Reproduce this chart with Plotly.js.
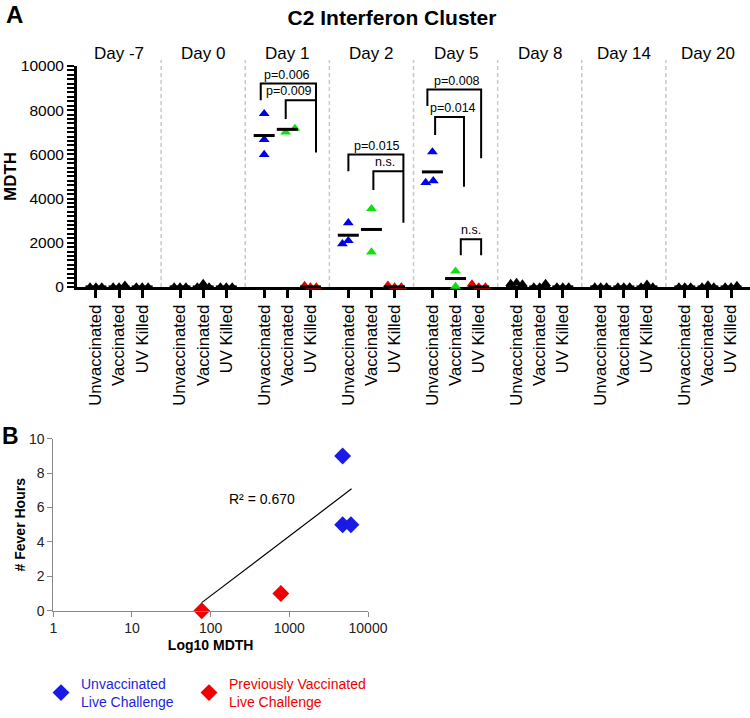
<!DOCTYPE html>
<html><head><meta charset="utf-8">
<script src="https://cdn.plot.ly/plotly-3.0.1.min.js"></script>
<style>html,body{margin:0;padding:0;background:#fff}#chart{width:750px;height:718px}</style>
</head><body><div id="chart"></div>
<script>
// ---------- Panel A data ----------
const days = ['Day -7','Day 0','Day 1','Day 2','Day 5','Day 8','Day 14','Day 20'];
const groups = ['Unvaccinated','Vaccinated','UV Killed'];
const coloredDays = ['Day 1','Day 2','Day 5'];
const unvaccinated = [[0,0,0],[0,0,0],[7840,6670,5990],[2900,2090,1950],[6110,4720,4800],[150,200,130],[0,0,0],[0,0,0]];
const vaccinated   = [[0,0,80],[0,150,0],[7000,7170],[3540,1580],[710,20],[0,0,150],[0,0,0],[0,90,0]];
const uvKilled     = [[0,0,0],[0,0,0],[60,0,0],[80,0,0],[130,0,0],[0,0,0],[0,120,0],[0,0,60]];
const meanUnvaccinated = [0,0,6850,2340,5205,0,0,0];
const meanVaccinated   = [0,0,7130,2600,380,0,0,0];
const meanUvKilled     = [0,0,0,0,0,0,0,0];
const bracketLabels = ['p=0.006','p=0.009','p=0.015','n.s.','p=0.008','p=0.014','n.s.'];
const bracketDays   = ['Day 1','Day 1','Day 2','Day 2','Day 5','Day 5','Day 5'];
const bracketTop    = [9200,8450,5990,5230,8930,7690,2160];
const bracketLeftEnd  = [8450,7600,5230,4390,8190,6870,1430];
const bracketRightEnd = [6080,8450,2900,5230,5820,4530,1430];
const yMax = 10000, yLabelStep = 2000, yMinorStep = 200;

// ---------- Panel B data ----------
const unvacMDTH = [4760,4760,6070];
const unvacFever = [9,5,5];
const prevVacMDTH = [77,780];
const prevVacFever = [0,1];
const trendMDTH = [77,6180];
const trendFever = [0.47,7.09];
const r2Label = 'R\u00b2 = 0.670';
const bXTicks = [1,10,100,1000,10000];

// ---------- geometry / style helpers ----------
const FONT = 'Arial, "Liberation Sans", sans-serif';
const CAT = 0.275;
const groupColors = ['#0000e6','#10e010','#e60000'];
const jitter = {
  'Unvaccinated': [[-0.07,0,0.07],[-0.07,0,0.07],[0,0,0],[0,0,-0.07],[0,-0.08,0.01],[-0.07,0,0.07],[-0.07,0,0.07],[-0.07,0,0.07]],
  'Vaccinated':   [[-0.07,0,0.07],[-0.07,0,0.07],[-0.02,0.09],[0,0],[0,0],[-0.07,0,0.07],[-0.07,0,0.07],[-0.07,0,0.07]],
  'UV Killed':    [[-0.07,0,0.07],[-0.07,0,0.07],[-0.07,0,0.07],[-0.08,0,0.08],[-0.08,0,0.08],[-0.07,0,0.07],[-0.07,0,0.07],[-0.07,0,0.07]]
};
const bracketX = [[-0.316,0.341],[-0.019,0.341],[-0.274,0.38],[0.023,0.38],[-0.335,0.304],[-0.243,0.10],[0.062,0.304]];
const bracketTextX = [0.0,0.02,0.064,0.16,0.02,-0.03,0.185];

const seriesValues = [unvaccinated, vaccinated, uvKilled];
const seriesMeans = [meanUnvaccinated, meanVaccinated, meanUvKilled];

const traces = [];
groups.forEach((g, gi) => {
  const xs = [], ys = [], cs = [];
  days.forEach((d, di) => {
    seriesValues[gi][di].forEach((v, k) => {
      xs.push(di + (gi - 1) * CAT + jitter[g][di][k]);
      ys.push(v);
      cs.push(coloredDays.includes(d) ? groupColors[gi] : '#000000');
    });
  });
  traces.push({type:'scatter', mode:'markers', x:xs, y:ys, xaxis:'x', yaxis:'y', name:g,
    cliponaxis:false, showlegend:false, hoverinfo:'skip',
    marker:{symbol:'triangle-up', size:9.5, color:cs, line:{width:0}}});
});
groups.forEach((g, gi) => {
  traces.push({type:'scatter', mode:'markers', xaxis:'x', yaxis:'y', showlegend:false, hoverinfo:'skip',
    cliponaxis:false, name:g + ' mean',
    x: days.map((d, di) => di + (gi - 1) * CAT), y: seriesMeans[gi],
    marker:{symbol:'line-ew', size:15, line:{width:3, color:'#000'}}});
});
bracketLabels.forEach((lab, i) => {
  const c = days.indexOf(bracketDays[i]);
  const x0 = c + bracketX[i][0], x1 = c + bracketX[i][1];
  traces.push({type:'scatter', mode:'lines', xaxis:'x', yaxis:'y', showlegend:false, hoverinfo:'skip',
    x:[x0,x0,x1,x1], y:[bracketLeftEnd[i], bracketTop[i], bracketTop[i], bracketRightEnd[i]],
    line:{color:'#000', width:2}});
});

// Panel B
traces.push({type:'scatter', mode:'lines', x:trendMDTH, y:trendFever, xaxis:'x2', yaxis:'y2',
  showlegend:false, hoverinfo:'skip', line:{color:'#000', width:1.2}});
traces.push({type:'scatter', mode:'markers', x:unvacMDTH, y:unvacFever, xaxis:'x2', yaxis:'y2',
  cliponaxis:false, legend:'legend',
  name:'<span style="color:#1f1fdc">Unvaccinated<br>Live Challenge</span>',
  marker:{symbol:'diamond', size:13, color:'#1a1ae6', line:{width:0}}});
traces.push({type:'scatter', mode:'markers', x:prevVacMDTH, y:prevVacFever, xaxis:'x2', yaxis:'y2',
  cliponaxis:false, legend:'legend2',
  name:'<span style="color:#ee0000">Previously Vaccinated<br>Live Challenge</span>',
  marker:{symbol:'diamond', size:13, color:'#f00000', line:{width:0}}});

const W = 750, H = 718;
const px = v => v / W, py = v => 1 - v / H;

const tickvals = [], ticktext = [];
days.forEach((d, di) => groups.forEach((g, gi) => { tickvals.push(di + (gi - 1) * CAT); ticktext.push(g); }));

// y ticks: dense comb, labelled every yLabelStep
const yTickVals = [], yTickText = [];
for (let v = 0; v <= yMax; v += yMinorStep) { yTickVals.push(v); yTickText.push(v % yLabelStep === 0 ? String(v) : ''); }

const shapes = [];
for (let k = 0; k < days.length - 1; k++) {
  shapes.push({type:'line', xref:'x', yref:'paper', x0:k + 0.5, x1:k + 0.5, y0:py(296), y1:py(62),
    line:{color:'#c8c8c8', width:1.5, dash:'4px,3px'}, layer:'below'});
}

const annotations = [];
annotations.push({text:'<b>A</b>', xref:'paper', yref:'paper', x:px(4), y:py(15), xanchor:'left', yanchor:'middle',
  showarrow:false, font:{size:24, family:FONT, color:'#000'}});
annotations.push({text:'<b>B</b>', xref:'paper', yref:'paper', x:px(0), y:py(450), xanchor:'left', yanchor:'middle',
  showarrow:false, font:{size:23, family:FONT, color:'#000'}});
days.forEach((d, di) => annotations.push({text:d, xref:'x', yref:'paper', x:di, y:py(55), yanchor:'middle',
  showarrow:false, font:{size:17, family:FONT, color:'#000'}}));
bracketLabels.forEach((lab, i) => {
  const c = days.indexOf(bracketDays[i]);
  annotations.push({text:lab, xref:'x', yref:'y', x:c + bracketTextX[i], y:bracketTop[i], yanchor:'bottom',
    showarrow:false, font:{size:12.5, family:FONT, color:'#000'}});
});
annotations.push({text:r2Label, xref:'x2', yref:'y2', x:2.652, y:6.49, showarrow:false,
  font:{size:14, family:FONT, color:'#000'}});

const layout = {
  width:W, height:H, margin:{l:0, r:0, t:0, b:0}, paper_bgcolor:'#fff', plot_bgcolor:'rgba(0,0,0,0)',
  font:{family:FONT, color:'#000'},
  title:{text:'<b>C2 Interferon Cluster</b>', x:px(392), xanchor:'center', y:py(18), yanchor:'middle',
    font:{size:21, family:FONT, color:'#000'}},
  xaxis:{domain:[px(77), 1], range:[-0.5, 7.5], anchor:'y', tickmode:'array', tickvals:tickvals, ticktext:ticktext,
    tickangle:-90, ticks:'outside', ticklen:8, tickwidth:3, tickcolor:'#000', showline:true, linewidth:3, linecolor:'#000',
    showgrid:false, zeroline:false, tickfont:{size:16.7, family:FONT, color:'#000'}, layer:'below traces', fixedrange:true},
  yaxis:{domain:[py(296), py(68)], range:[0, yMax], anchor:'x', tickmode:'array', tickvals:yTickVals, ticktext:yTickText,
    ticks:'outside', ticklen:7, tickwidth:2, tickcolor:'#000', showline:true, linewidth:3, linecolor:'#000',
    showgrid:false, zeroline:false,
    tickfont:{size:15.5, family:FONT, color:'#000'}, layer:'below traces', fixedrange:true,
    title:{text:'<b>MDTH</b>', font:{size:17, family:FONT, color:'#000'}, standoff:0}},
  xaxis2:{domain:[px(53.3), px(368)], type:'log', range:[0, 4], anchor:'y2', tickmode:'array', tickvals:bXTicks,
    ticktext:bXTicks.map(String), ticks:'outside', ticklen:5, tickcolor:'#888', showline:true, linecolor:'#888',
    linewidth:1, showgrid:false, zeroline:false, tickfont:{size:14, family:FONT, color:'#222'}, fixedrange:true,
    title:{text:'<b>Log10 MDTH</b>', font:{size:14, family:FONT, color:'#000'}, standoff:4}},
  yaxis2:{domain:[py(630), py(452.7)], range:[0, 10], anchor:'x2', dtick:2, ticks:'outside', ticklen:5, tickcolor:'#888',
    showline:true, linecolor:'#888', linewidth:1, showgrid:false, zeroline:false,
    tickfont:{size:14, family:FONT, color:'#222'}, fixedrange:true,
    title:{text:'<b># Fever Hours</b>', font:{size:14, family:FONT, color:'#000'}, standoff:0}},
  showlegend:true,
  legend:{orientation:'h', x:px(41), y:py(689), xanchor:'left', yanchor:'top',
    font:{size:14, family:FONT}, bgcolor:'rgba(0,0,0,0)'},
  legend2:{orientation:'h', x:px(189), y:py(689), xanchor:'left', yanchor:'top',
    font:{size:14, family:FONT}, bgcolor:'rgba(0,0,0,0)'},
  shapes:shapes, annotations:annotations
};

Plotly.newPlot('chart', traces, layout, {staticPlot:true, displayModeBar:false});
</script>
</body></html>
